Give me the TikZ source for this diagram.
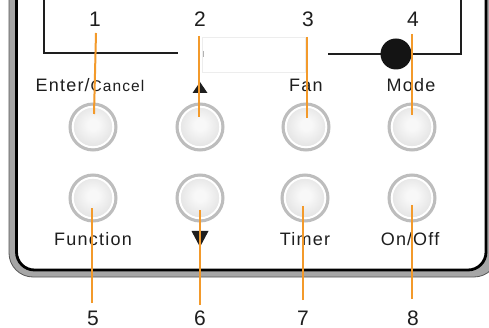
\documentclass[tikz,border=0pt]{standalone}
\usepackage{fontspec}
\setmainfont{Liberation Sans}
\newfontfamily\lblfont[LetterSpace=7]{Liberation Sans}
\definecolor{leadc}{HTML}{F39A2B}
\definecolor{inkc}{HTML}{1E1E1E}
\definecolor{bandc}{HTML}{A6A6A6}
\definecolor{banddark}{HTML}{555555}
\definecolor{ringc}{HTML}{BDBDBD}
\definecolor{btnin}{HTML}{F8F8F8}
\definecolor{btnout}{HTML}{C4C4C4}
\pgfdeclareradialshading{btnshade}{\pgfpoint{0bp}{3bp}}{color(0bp)=(btnin); color(6bp)=(btnin); color(50bp)=(btnout)}
\tikzset{
  btn/.style={circle, minimum size=46pt, inner sep=0pt, shading=btnshade, draw=ringc, line width=3pt,
    path picture={\draw[white, line width=2pt] (path picture bounding box.center) circle (20.3pt);}},
  lbl/.style={anchor=base, inner sep=0pt, text=inkc, font=\lblfont\fontsize{18}{18}\selectfont},
  num/.style={anchor=base, inner sep=0pt, text=inkc, font=\fontsize{21}{21}\selectfont},
  leadline/.style={draw=leadc, line width=2pt},
  displine/.style={draw=inkc, line width=2pt, line join=miter},
}
\begin{document}
\begin{tikzpicture}[x=1pt,y=-1pt]
\useasboundingbox (0,0) rectangle (489,328);
% housing
\filldraw[fill=bandc, draw=banddark, line width=0.8pt, rounded corners=24pt]
  (9,-40) -- (9,277) -- (498,277) -- (498,-40) -- cycle;
\filldraw[fill=white, draw=black, line width=2.8pt, rounded corners=18pt]
  (16.5,-40) -- (16.5,270) -- (486,270) -- (486,-40);
% display window
\draw[displine] (43.5,-3) -- (43.5,53.5) -- (178,53.5);
\draw[displine] (328,54) -- (461,54) -- (461,-3);
\draw[draw=black!7, line width=0.8pt] (202,37.5) rectangle (305,72);
\draw[gray!60, line width=1.2pt] (203.5,51) -- (203.5,57);
\fill[black!92] (396,54) circle (15.5pt);
% buttons
\node[btn] (b1) at (93,127) {};
\node[btn] (b2) at (200,127) {};
\node[btn] (b3) at (306,127) {};
\node[btn] (b4) at (412,127) {};
\node[btn] (b5) at (93,198) {};
\node[btn] (b6) at (200,198) {};
\node[btn] (b7) at (305,198) {};
\node[btn] (b8) at (412,198) {};
% labels
\node[lbl] (l1) at (90,92) {Enter\hspace{1pt}/\hspace{1pt}{\fontsize{15.5}{15.5}\selectfont Cancel}};
\fill[inkc] (192.5,93) -- (207.5,93) -- (200,82) -- cycle;
\node[lbl] (l3) at (306,92) {Fan};
\node[lbl] (l4) at (411,92) {Mode};
\node[lbl] (l5) at (93,246) {Function};
\fill[inkc] (191.5,231) -- (208.5,231) -- (200,247) -- cycle;
\node[lbl] (l7) at (305,246) {Timer};
\node[lbl] (l8) at (410,246) {On\hspace{1pt}/\hspace{1pt}Off};
% numbers
\node[num] (n1) at (95,27) {1};
\node[num] (n2) at (200,27) {2};
\node[num] (n3) at (308,27) {3};
\node[num] (n4) at (413,27) {4};
\node[num] (n5) at (93,325) {5};
\node[num] (n6) at (200,325) {6};
\node[num] (n7) at (303,325) {7};
\node[num] (n8) at (413,325) {8};
% leader ends
\coordinate (s1) at (96,33);  \coordinate (e1) at (94,114);
\coordinate (s2) at (199,36); \coordinate (e2) at (199,117);
\coordinate (s3) at (307,37); \coordinate (e3) at (307,118);
\coordinate (s4) at (412,34); \coordinate (e4) at (412,115);
\coordinate (s5) at (92,303); \coordinate (e5) at (92,208);
\coordinate (s6) at (200,305); \coordinate (e6) at (200,210);
\coordinate (s7) at (303,300); \coordinate (e7) at (303,206);
\coordinate (s8) at (412,299); \coordinate (e8) at (412,205);
\foreach \i in {1,...,8} { \draw[leadline] (s\i) -- (e\i); }
\end{tikzpicture}
\end{document}
